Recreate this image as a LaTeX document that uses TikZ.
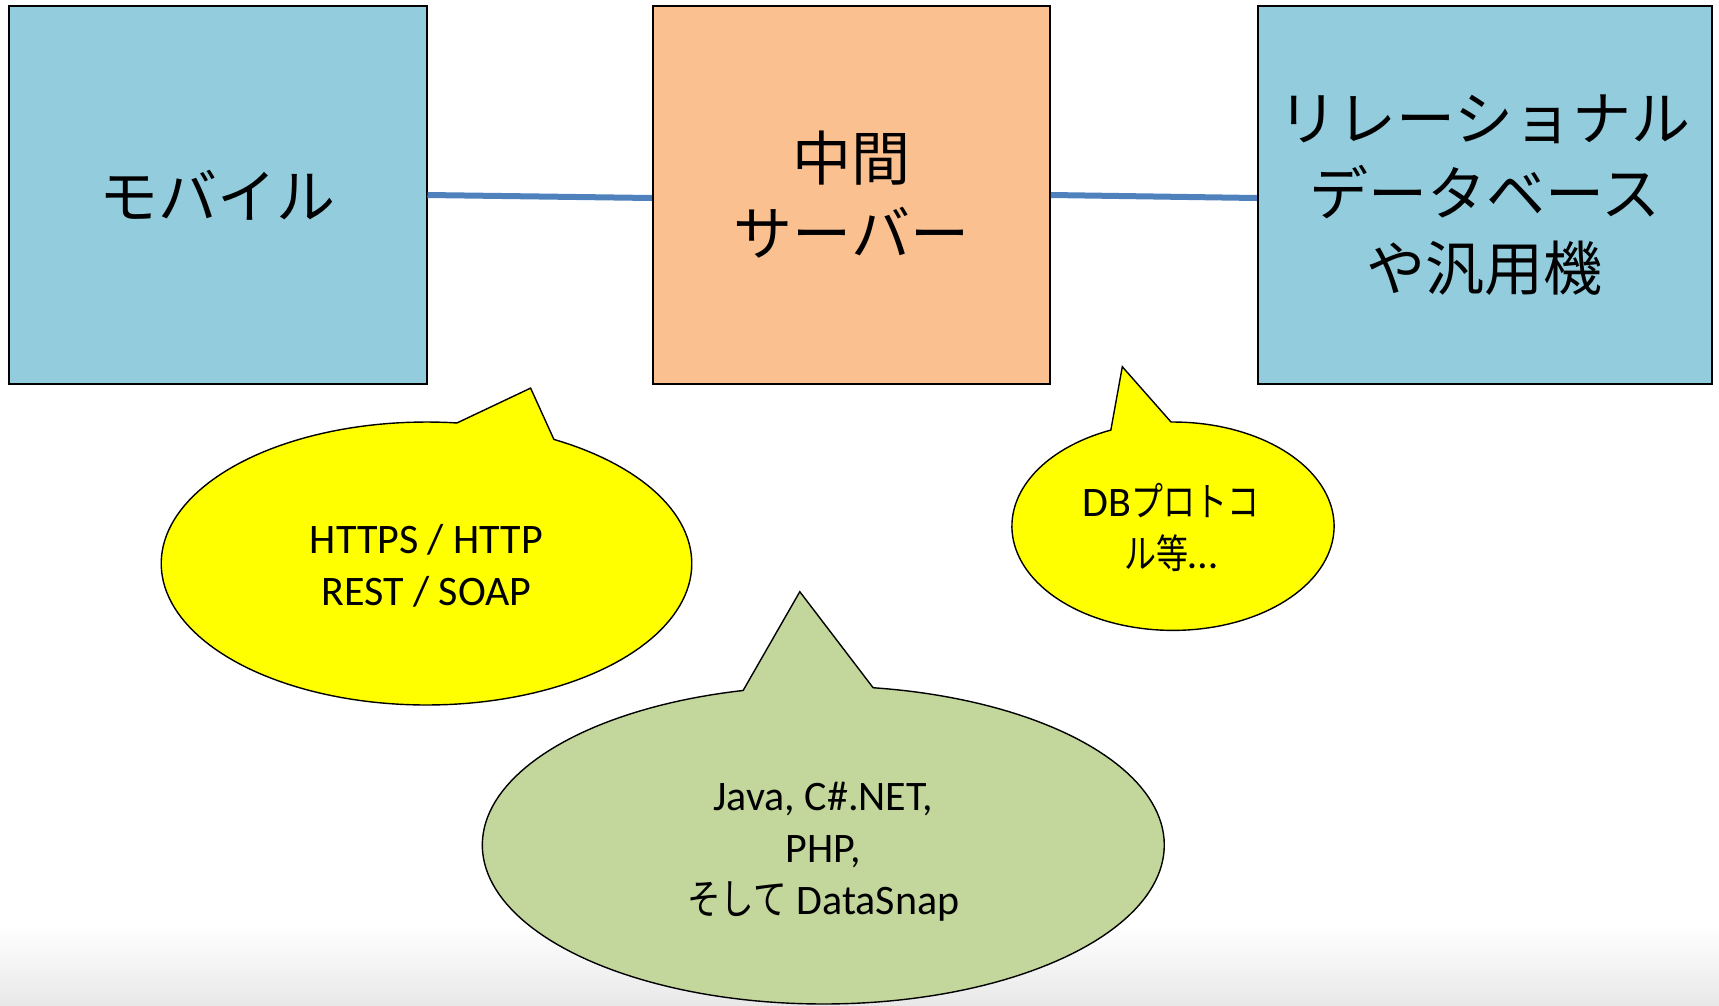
\documentclass[tikz,border=0pt]{standalone}
\usepackage{fontspec}
\setmainfont{Carlito}
\newfontfamily\jp{Noto Sans CJK JP}
\newfontfamily\jpn[FakeStretch=0.8]{Noto Sans CJK JP}
\definecolor{tierblue}{RGB}{147,205,221}
\definecolor{tierorange}{RGB}{250,192,144}
\definecolor{linkblue}{RGB}{79,129,189}
\definecolor{notegreen}{RGB}{195,214,155}
\definecolor{noteyellow}{RGB}{255,255,0}
\begin{document}
\begin{tikzpicture}[x=1pt,y=-1pt,
  tier/.style={draw=black, line width=2pt, inner sep=0pt, align=center,
    minimum height=378pt, font=\jp\fontsize{59}{75}\selectfont},
  link/.style={draw=linkblue, line width=6pt},
  bubble/.style={draw=black, line width=1.4pt, line join=miter},
  note/.style={align=center, inner sep=0pt, font=\fontsize{42}{52}\selectfont}
]
\useasboundingbox (0,0) rectangle (1719,1005);
% soft shadow along the lower edge of the page
\shade[top color=white, bottom color=black!9, draw=none] (0,925) rectangle (1719,1005);

% the three tiers
\node[tier, fill=tierblue, minimum width=418pt] (mobile) at (217.5,195) {モバイル};
\node[tier, fill=tierorange, minimum width=397pt] (server) at (851.4,195) {中間\\サーバー};
\node[tier, fill=tierblue, minimum width=454pt] (rdb) at (1484.8,195) {リレーショナル\\データベース\\や汎用機};

% links between the tiers
\draw[link] (mobile.east) -- ([yshift=-3pt]server.west);
\draw[link] (server.east) -- ([yshift=-3pt]rdb.west);

% speech bubbles: ellipse outline with a pointed tail
\filldraw[bubble, fill=noteyellow]
  plot[domain=-61.3:276.6, samples=160] ({426.5+265.3*cos(\x)},{563.5+141.5*sin(\x)})
  -- (530.6,388.1) -- cycle;
\filldraw[bubble, fill=noteyellow]
  plot[domain=-90.7:247.3, samples=140] ({1173+161.1*cos(\x)},{526.2+104.2*sin(\x)})
  -- (1122.3,366.7) -- cycle;
\filldraw[bubble, fill=notegreen]
  plot[domain=-81.6:256.4, samples=180] ({823.3+341*cos(\x)},{845+159*sin(\x)})
  -- (799.8,591.7) -- cycle;

% bubble texts
\node[note] (proto) at (426.5,565.5) {HTTPS / HTTP\\REST / SOAP};
\node[note] (dbproto) at (1171,527) {DB{\jpn\fontsize{40}{52}\selectfont プロトコ}\\{\jpn\fontsize{40}{52}\selectfont ル等}…};
\node[note] (lang) at (823.3,851.5) {Java, C\#.NET,\\PHP,\\{\jpn\fontsize{42}{52}\selectfont そして} DataSnap};
\end{tikzpicture}
\end{document}
